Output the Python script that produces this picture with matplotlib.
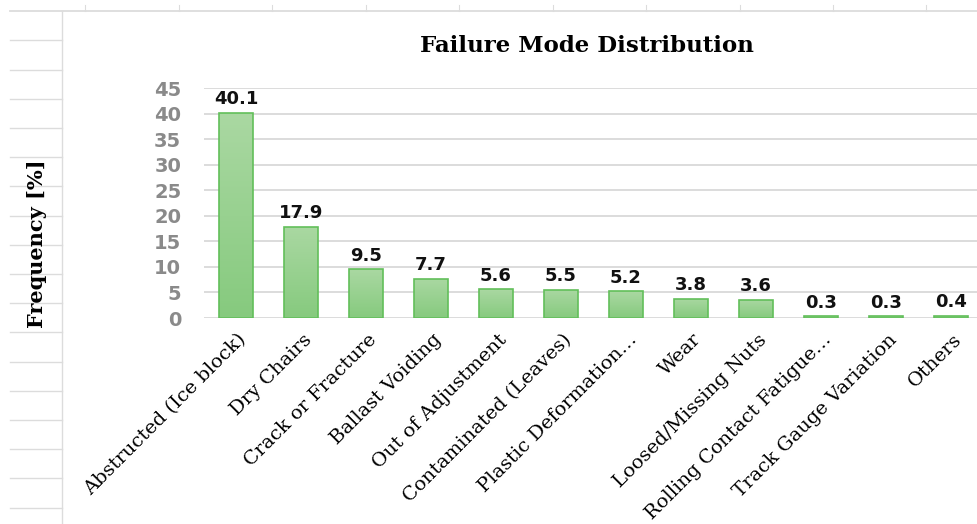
import numpy as np
import matplotlib
matplotlib.use("Agg")
import matplotlib.pyplot as plt
from matplotlib.lines import Line2D
from matplotlib.colors import LinearSegmentedColormap

categories = ["Abstructed (Ice block)", "Dry Chairs", "Crack or Fracture",
              "Ballast Voiding", "Out of Adjustment", "Contaminated (Leaves)",
              "Plastic Deformation\u2026", "Wear", "Loosed/Missing Nuts",
              "Rolling Contact Fatigue\u2026", "Track Gauge Variation", "Others"]
values = [40.1, 17.9, 9.5, 7.7, 5.6, 5.5, 5.2, 3.8, 3.6, 0.3, 0.3, 0.4]
yticks = [0, 5, 10, 15, 20, 25, 30, 35, 40, 45]

W, H = 977, 524
fig = plt.figure(figsize=(W / 100, H / 100), dpi=100)

# spreadsheet cell lines behind the chart
sheet = "#dcdcdc"
def px_line(x0, y0, x1, y1, lw=1.0):
    fig.add_artist(Line2D([x0 / W, x1 / W], [1 - y0 / H, 1 - y1 / H],
                          color=sheet, lw=lw, zorder=0))

px_line(10, 11, W, 11, 1.3)
px_line(62, 11, 62, H, 1.0)
for x in [85, 179, 272, 366, 459, 553, 646, 740, 833, 926]:
    px_line(x, 5, x, 11, 0.8)
for y in np.arange(40.3, H, 29.2):
    px_line(10, y, 62, y, 1.0)

# chart area (right edge runs past the image, as in the reference)
ax = fig.add_axes([203.5 / W, (H - 318) / H, 780 / W, 230 / H])
x = np.arange(len(categories))
ax.set_xlim(-0.5, len(categories) - 0.5)
ax.set_ylim(0, 45)

cmap = LinearSegmentedColormap.from_list("g", ["#86ca7e", "#aad8a2"])
grad = np.linspace(0, 1, 256).reshape(-1, 1)
bars = ax.bar(x, values, width=0.51, facecolor="none",
              edgecolor="#62bf5a", linewidth=1.2, zorder=3)
for b, v in zip(bars, values):
    bx, bw = b.get_x(), b.get_width()
    im = ax.imshow(grad, cmap=cmap, origin="lower", aspect="auto",
                   extent=[bx, bx + bw, 0, v], zorder=2)
    im.set_clip_path(b)
    ax.text(bx + bw / 2, v + 0.9, f"{v:.1f}", ha="center", va="bottom",
            fontsize=13, fontweight="bold", family="DejaVu Sans", color="#111111")

ax.set_yticks(yticks)
ax.set_yticklabels([str(t) for t in yticks], fontsize=14, fontweight="bold",
                   color="#8a8a8a")
ax.yaxis.grid(True, color="#d9d9d9", lw=1.3, zorder=0)
ax.set_axisbelow(True)
ax.tick_params(axis="y", length=0, pad=16)
ax.tick_params(axis="x", length=0)
for s in ax.spines.values():
    s.set_visible(False)
ax.set_xticks([])
ax.set_xlim(-0.5, len(categories) - 0.5)

for xi, lab in zip(x, categories):
    ax.annotate(lab, (xi, 0), xytext=(1, -9), textcoords="offset points",
                ha="right", va="top", rotation=45, rotation_mode="anchor",
                fontsize=14, family="DejaVu Serif", annotation_clip=False)

fig.text(587 / W, 1 - 46 / H, "Failure Mode Distribution", ha="center",
         va="center", fontsize=16.5, fontweight="bold", family="DejaVu Serif")
fig.text(37 / W, 1 - 244 / H, "Frequency [%]", ha="center", va="center",
         rotation=90, fontsize=15, fontweight="bold", family="DejaVu Serif")

fig.savefig("out.png", dpi=100)
